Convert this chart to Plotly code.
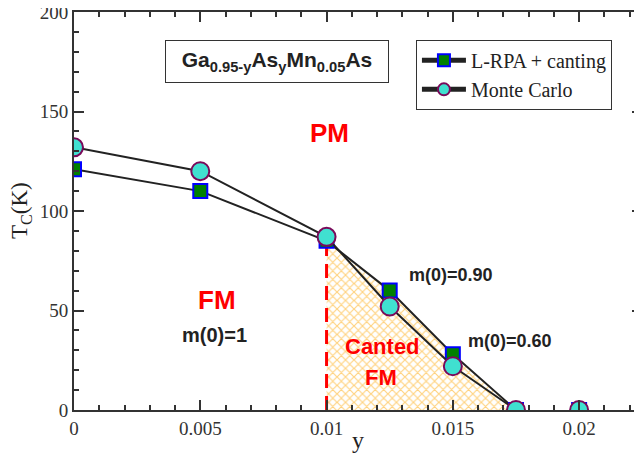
import plotly.graph_objects as go

# Data
y_conc = [0.0, 0.005, 0.01, 0.0125, 0.015, 0.0175, 0.02]
tc_lrpa = [121, 110, 85, 60, 28, 0, 0]
tc_mc = [132, 120, 87, 52, 22, 0, 0]

x_ticks = [0, 0.005, 0.01, 0.015, 0.02]
x_ticklabels = ["0", "0.005", "0.01", "0.015", "0.02"]
y_ticks = [0, 50, 100, 150, 200]

SERIF = "Liberation Serif, Times New Roman, serif"
SANS = "Liberation Sans, Arial, sans-serif"

fig = go.Figure()

# Canted FM hatched region (from y=0.01 to 0.0175 below L-RPA curve)
cx = [y_conc[2]] + y_conc[2:6] + [y_conc[2]]
cy = [0] + tc_lrpa[2:6] + [0]
fig.add_trace(go.Scatter(
    x=cx, y=cy, mode="none", fill="toself", fillcolor="rgba(0,0,0,0)",
    fillpattern=dict(shape="x", fgcolor="#FFA500", bgcolor="white", size=6, solidity=0.35),
    showlegend=False, hoverinfo="skip"))

# Dashed red boundary
fig.add_trace(go.Scatter(
    x=[y_conc[2], y_conc[2]], y=[0, tc_lrpa[2]], mode="lines",
    line=dict(color="#FF0000", width=3, dash="14px,8px"),
    showlegend=False, hoverinfo="skip"))

sq_marker = dict(symbol="square", size=14, color="#008000", line=dict(color="#0000FF", width=2))
ci_marker = dict(symbol="circle", size=18, color="#40E0D0", line=dict(color="#7A0A5A", width=2))

fig.add_trace(go.Scatter(
    x=y_conc[:6], y=tc_lrpa[:6], mode="lines+markers", name="L-RPA + canting",
    line=dict(color="#222222", width=2), marker=sq_marker))
fig.add_trace(go.Scatter(
    x=y_conc[:6], y=tc_mc[:6], mode="lines+markers", name="Monte Carlo",
    line=dict(color="#222222", width=2), marker=ci_marker))
# isolated y=0.02 points
fig.add_trace(go.Scatter(x=y_conc[6:], y=tc_lrpa[6:], mode="markers",
                         marker=sq_marker, showlegend=False))
fig.add_trace(go.Scatter(x=y_conc[6:], y=tc_mc[6:], mode="markers",
                         marker=ci_marker, showlegend=False))

annots = [
    dict(x=0.01013, y=139, text="<b>PM</b>", font=dict(family=SANS, size=26, color="#FF0000")),
    dict(x=0.00568, y=55.3, text="<b>FM</b>", font=dict(family=SANS, size=26, color="#FF0000")),
    dict(x=0.00557, y=37.5, text="<b>m(0)=1</b>", font=dict(family=SANS, size=20, color="#222222")),
    dict(x=0.01493, y=67.8, text="<b>m(0)=0.90</b>", font=dict(family=SANS, size=18, color="#222222")),
    dict(x=0.01726, y=34.7, text="<b>m(0)=0.60</b>", font=dict(family=SANS, size=18, color="#222222")),
    dict(x=0.01222, y=32, text="<b>Canted</b>", font=dict(family=SANS, size=22, color="#FF0000")),
    dict(x=0.01215, y=16.2, text="<b>FM</b>", font=dict(family=SANS, size=22, color="#FF0000")),
]
for a in annots:
    fig.add_annotation(xref="x", yref="y", showarrow=False, **a)

fig.add_annotation(
    xref="x", yref="y", x=0.00804, y=175, showarrow=False,
    text="<b>Ga<sub>0.95-y</sub>As<sub>y</sub>Mn<sub>0.05</sub>As</b>",
    font=dict(family=SANS, size=21, color="#222222"),
    bordercolor="#333333", borderwidth=1, borderpad=2, bgcolor="white",
    width=218, height=37)

# Axis titles
fig.add_annotation(xref="paper", yref="paper", x=0.5, y=-0.075, yanchor="middle",
                   showarrow=False, text="y",
                   font=dict(family=SERIF, size=24, color="#222222"))
fig.add_annotation(xref="paper", yref="paper", x=-53/568, y=0.5, xanchor="center",
                   showarrow=False, text="T<sub>C</sub>(K)", textangle=-90,
                   font=dict(family=SERIF, size=23, color="#222222"))

axis_common = dict(
    showgrid=False, zeroline=False, showline=True, linecolor="#333333", linewidth=2,
    ticks="inside", ticklen=10, tickwidth=2, tickcolor="#333333", mirror="ticks",
    tickfont=dict(family=SERIF, size=19, color="#333333"), automargin=False,
    ticklabeloverflow="allow",
)

fig.update_xaxes(
    range=[0, 0.02249], tickvals=x_ticks, ticktext=x_ticklabels,
    minor=dict(dtick=0.001, ticklen=5, tickwidth=2, tickcolor="#333333", ticks="inside"),
    **axis_common)
fig.update_yaxes(
    range=[0, 200], tickvals=y_ticks,
    minor=dict(dtick=10, ticklen=5, tickwidth=2, tickcolor="#333333", ticks="inside"),
    **axis_common)

# page body has an 8px default margin; margins compensate for that offset
fig.update_layout(
    width=642, height=455,
    margin=dict(l=66, r=8, t=4, b=53),
    paper_bgcolor="white", plot_bgcolor="white",
    legend=dict(x=0.602, y=0.93, xanchor="left", yanchor="top",
                bordercolor="#333333", borderwidth=1, bgcolor="white",
                font=dict(family=SERIF, size=20, color="#222222"),
                tracegroupgap=0, itemsizing="constant", itemwidth=44),
)

fig.write_html("out.html")
